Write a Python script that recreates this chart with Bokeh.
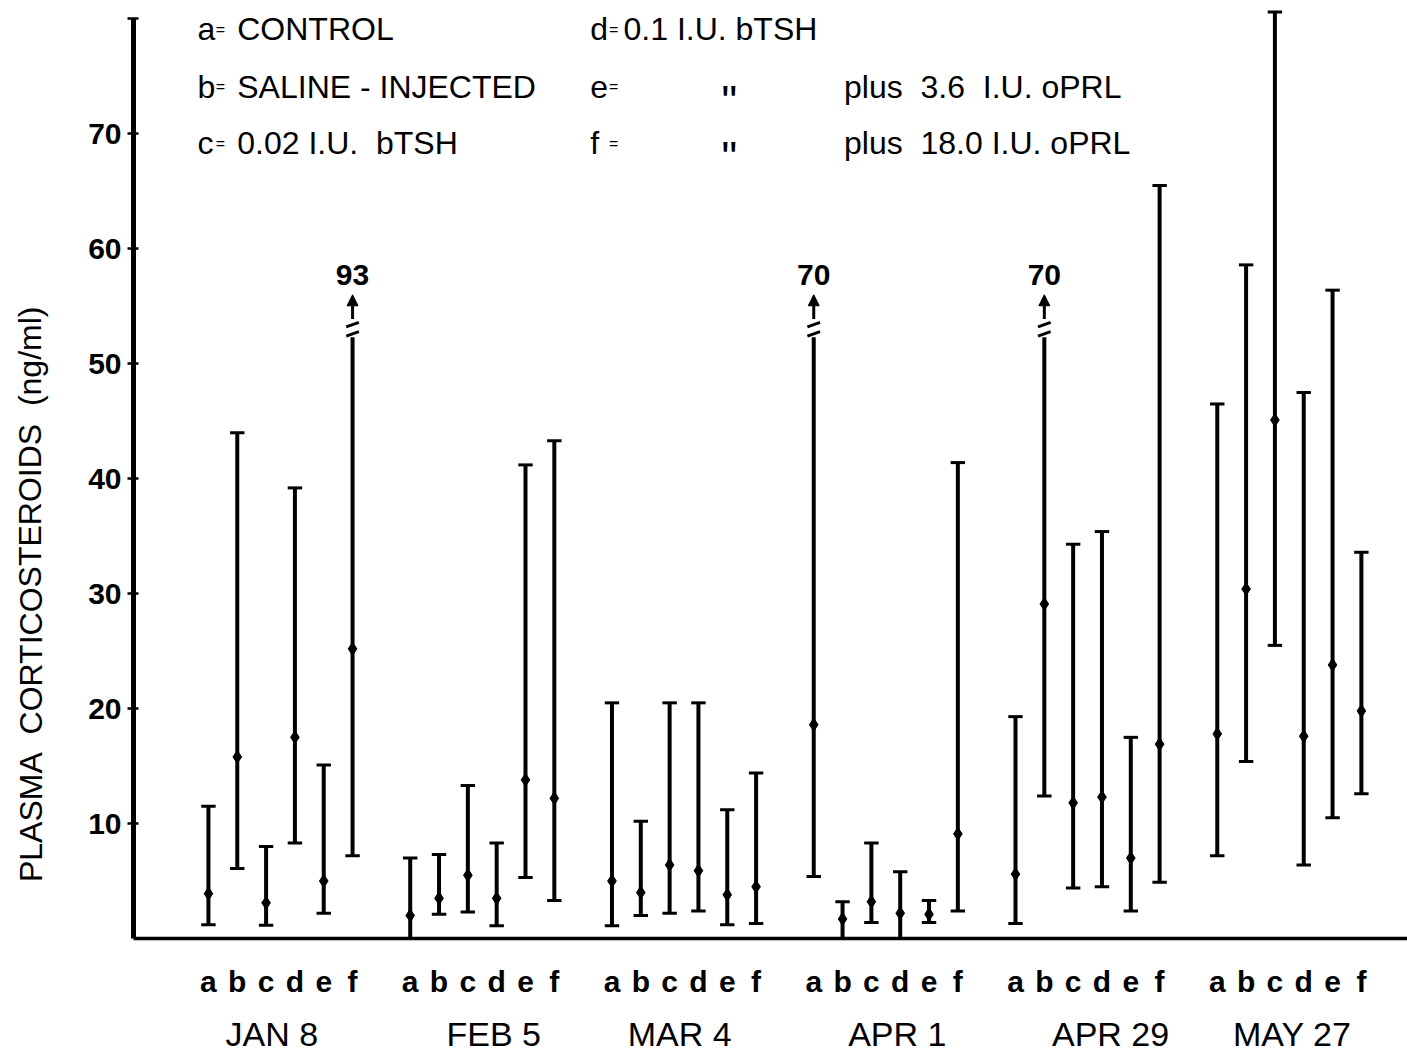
from bokeh.plotting import figure
from bokeh.layouts import row
from bokeh.models import (Range1d, FixedTicker, LinearAxis, Label, Arrow,
                          NormalHead, ColumnDataSource)
from bokeh.core.properties import value
from bokeh.embed import file_html
from bokeh.resources import INLINE

# Sampling dates and treatment groups
dates = ["JAN 8", "FEB 5", "MAR 4", "APR 1", "APR 29", "MAY 27"]
groups = ["a", "b", "c", "d", "e", "f"]

# Plasma corticosteroids (ng/ml): mean, lower and upper limit of each bar
means = [
    [3.9, 15.8, 3.1, 17.5, 5.0, 25.2],
    [2.0, 3.5, 5.5, 3.5, 13.8, 12.2],
    [5.0, 4.0, 6.4, 5.9, 3.8, 4.5],
    [18.6, 1.7, 3.2, 2.2, 2.1, 9.1],
    [5.6, 29.1, 11.8, 12.3, 7.0, 16.9],
    [17.8, 30.4, 45.1, 17.6, 23.8, 19.8],
]
lows = [
    [1.2, 6.1, 1.15, 8.3, 2.2, 7.2],
    [0.0, 2.1, 2.3, 1.1, 5.3, 3.3],
    [1.1, 2.0, 2.2, 2.4, 1.2, 1.3],
    [5.4, 0.0, 1.4, 0.0, 1.4, 2.4],
    [1.3, 12.4, 4.4, 4.5, 2.4, 4.9],
    [7.2, 15.4, 25.5, 6.4, 10.5, 12.6],
]
highs = [
    [11.5, 44.0, 8.0, 39.2, 15.1, 93],
    [7.0, 7.3, 13.3, 8.3, 41.2, 43.3],
    [20.5, 10.2, 20.5, 20.5, 11.2, 14.4],
    [70, 3.2, 8.3, 5.8, 3.3, 41.4],
    [19.3, 70, 34.3, 35.4, 17.5, 65.5],
    [46.5, 58.6, 80.6, 47.5, 56.4, 33.6],
]
# bars whose upper limit is off the scale (drawn with a break)
broken = [("JAN 8", "f"), ("APR 1", "a"), ("APR 29", "b")]

NB = "\u00a0"
legend_left = [("a", "CONTROL"), ("b", "SALINE - INJECTED"),
               ("c", "0.02 I.U." + NB + NB + "bTSH")]
legend_right = [("d", "0.1 I.U. bTSH", ""),
                ("e", "plus" + NB + NB + "3.6" + NB + NB + "I.U. oPRL", '"'),
                ("f", "plus" + NB + NB + "18.0 I.U. oPRL", '"')]
y_title = "PLASMA" + NB + NB + "CORTICOSTEROIDS" + NB + NB + "(ng/ml)"

Y_LABELS = [10, 20, 30, 40, 50, 60, 70]
Y_TOP = 80
BREAK_AT = 52.3
STEP = 7          # slots per date (6 bars + a gap)
CAP = 0.25
DATE_SHIFT = [-0.3, 0.4, -0.15, 0.4, 0.8, 0.1]   # nudges of the date captions

FONT = "Liberation Sans"
W, H = 1407, 1060
SIDE = 60         # strip holding the y-axis title

p = figure(width=W - SIDE, height=H, output_backend="svg", toolbar_location=None,
           x_range=Range1d(-2.6, 41.6), y_range=Range1d(0, 81.6),
           x_axis_type=None, y_axis_type=None,
           min_border_left=133 - SIDE, min_border_right=0, min_border_top=0,
           min_border_bottom=122)
p.outline_line_color = None
p.xgrid.visible = False
p.ygrid.visible = False
p.background_fill_color = "white"
p.border_fill_color = "white"

xs, mid, lo, top, cap_lo_x, cap_lo_y, cap_hi_x, cap_hi_y = [], [], [], [], [], [], [], []
breaks = []
for g, d in enumerate(dates):
    for j, k in enumerate(groups):
        x = STEP * g + j
        is_broken = (d, k) in broken
        t = min(highs[g][j], BREAK_AT) if is_broken else highs[g][j]
        xs.append(x)
        mid.append(means[g][j])
        lo.append(lows[g][j])
        top.append(t)
        if lows[g][j] > 0:
            cap_lo_x.append(x)
            cap_lo_y.append(lows[g][j])
        if is_broken:
            breaks.append((x, t, highs[g][j]))
        else:
            cap_hi_x.append(x)
            cap_hi_y.append(t)

src = ColumnDataSource(dict(x=xs, mean=mid, low=lo, top=top))
p.segment(x0="x", y0="low", x1="x", y1="top", source=src,
          line_width=4, line_color="black")
p.segment(x0=[x - CAP for x in cap_lo_x], y0=cap_lo_y,
          x1=[x + CAP for x in cap_lo_x], y1=cap_lo_y,
          line_width=3, line_color="black")
p.segment(x0=[x - CAP for x in cap_hi_x], y0=cap_hi_y,
          x1=[x + CAP for x in cap_hi_x], y1=cap_hi_y,
          line_width=3, line_color="black")
p.scatter(x="x", y="mean", source=src, marker="diamond", size=13,
          color="black")

# broken bars: slash marks, an arrow and the true upper value
for x, t, h in breaks:
    p.segment(x0=[x - 0.22, x - 0.22], y0=[t + 0.1, t + 0.9],
              x1=[x + 0.22, x + 0.22], y1=[t + 0.5, t + 1.3],
              line_width=3, line_color="black")
    p.add_layout(Arrow(end=NormalHead(size=11, fill_color="black",
                                      line_color="black"),
                       x_start=x, y_start=t + 1.6, x_end=x, y_end=t + 3.7,
                       line_width=3, line_color="black"))
    p.add_layout(Label(x=x, y=t + 5.4, text=str(h), text_align="center",
                       text_baseline="middle", text_font=FONT,
                       text_font_style="bold", text_font_size="30px",
                       text_color="black"))

# y axis
yax = LinearAxis(ticker=FixedTicker(ticks=Y_LABELS + [Y_TOP]),
                 major_label_overrides={Y_TOP: ""})
yax.bounds = (0, Y_TOP)
yax.axis_line_width = 5
yax.axis_line_color = "black"
yax.major_tick_line_width = 2.5
yax.major_tick_in = 5
yax.major_tick_out = 6
yax.minor_tick_line_color = None
yax.major_label_standoff = 6
yax.major_label_text_font = FONT
yax.major_label_text_font_style = "bold"
yax.major_label_text_font_size = "30px"
yax.major_label_text_color = "black"
p.add_layout(yax, "left")

# x axis: group letters under each bar
xax = LinearAxis(ticker=FixedTicker(ticks=xs),
                 major_label_overrides={x: groups[i % 6] for i, x in enumerate(xs)})
xax.axis_line_width = 3.5
xax.axis_line_color = "black"
xax.major_tick_line_color = None
xax.minor_tick_line_color = None
xax.major_label_standoff = 20
xax.major_label_text_font = FONT
xax.major_label_text_font_style = "bold"
xax.major_label_text_font_size = "30px"
xax.major_label_text_color = "black"
p.add_layout(xax, "below")

# second row: sampling dates
centers = [STEP * g + 2.5 + s for g, s in zip(range(len(dates)), DATE_SHIFT)]
dax = LinearAxis(ticker=FixedTicker(ticks=centers),
                 major_label_overrides={c: d for c, d in zip(centers, dates)})
dax.axis_line_color = None
dax.major_tick_line_color = None
dax.minor_tick_line_color = None
dax.major_label_standoff = 8
dax.major_label_text_font = FONT
dax.major_label_text_font_size = "34px"
dax.major_label_text_color = "black"
p.add_layout(dax, "below")

# key to the groups
rows = [79.1, 74.1, 69.2]


def key_text(x, y, txt, size="32px"):
    p.add_layout(Label(x=x, y=y, text=txt, text_align="left",
                       text_baseline="middle", text_font=FONT,
                       text_font_size=size, text_color="black"))


for (k, desc), y in zip(legend_left, rows):
    key_text(-0.38, y, k)
    key_text(0.25, y, "=", size="16px")
    key_text(1.0, y, desc)

for (k, desc, ditto), y in zip(legend_right, rows):
    key_text(13.25, y, k)
    key_text(13.9, y, "=", size="16px")
    if ditto:
        key_text(17.8, y - 1.3, ditto, size="44px")
        key_text(22.05, y, desc)
    else:
        key_text(14.4, y, desc)

# narrow strip on the left carrying the rotated y-axis title
side = figure(width=SIDE, height=H, output_backend="svg", toolbar_location=None,
              x_range=Range1d(0, SIDE), y_range=Range1d(0, H),
              x_axis_type=None, y_axis_type=None, min_border=0)
side.outline_line_color = None
side.xgrid.visible = False
side.ygrid.visible = False
side.text(x=[30], y=[389], text=[y_title], angle=1.5708,
          text_align="center", text_baseline="middle",
          text_font=value(FONT), text_font_size="32px", text_color="black")

layout = row(side, p, spacing=0)
open("out.html", "w").write(file_html(layout, INLINE))
